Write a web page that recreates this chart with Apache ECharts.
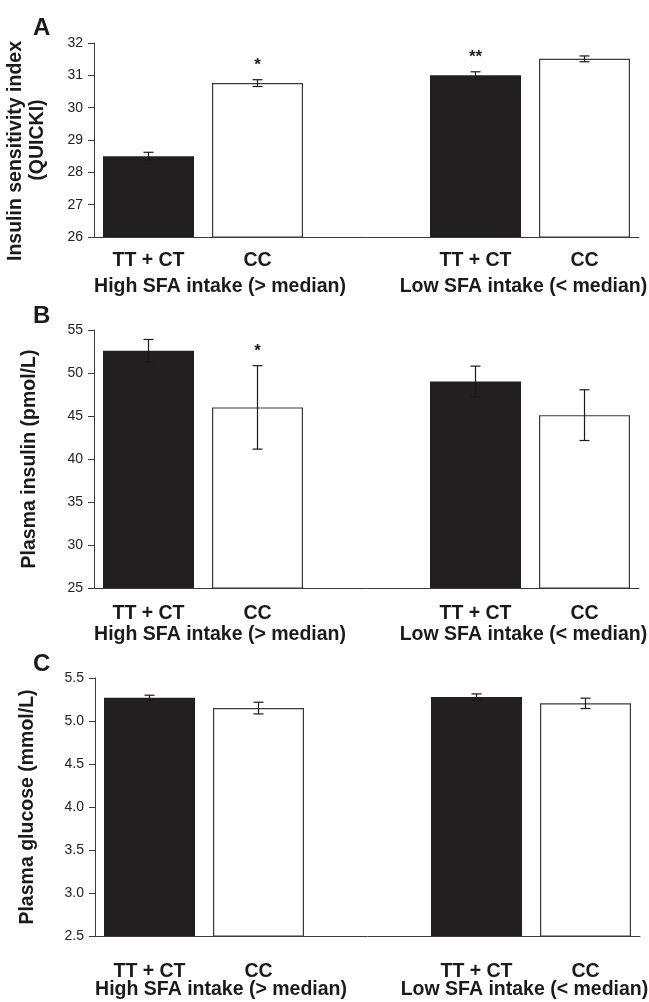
<!DOCTYPE html>
<html>
<head>
<meta charset="utf-8">
<script src="https://cdn.jsdelivr.net/npm/echarts@6/dist/echarts.min.js"></script>
<style>
html,body{margin:0;padding:0;background:#fff;}
#chart{width:649px;height:1002px;}
</style>
</head>
<body>
<div id="chart"></div>
<script>
// ---- data ----
const categories = ['TT + CT', 'CC', '', 'TT + CT', 'CC'];
const groupLabels = ['High SFA intake (> median)', 'Low SFA intake (< median)'];
const panelLetters = ['A', 'B', 'C'];
const yTitles = ['{a|Insulin sensitivity index}\n{b|(QUICKI)}', 'Plasma insulin (pmol/L)', 'Plasma glucose (mmol/L)'];

const quickiMean = [28.5, 30.76, null, 31.0, 31.51];
const quickiSE = [0.12, 0.105, null, 0.11, 0.09];
const quickiStars = ['', '*', '', '**', ''];
const quickiAxis = [26, 32, 1];

const insulinMean = [52.6, 46.0, null, 49.0, 45.1];
const insulinSE = [1.3, 4.85, null, 1.8, 2.95];
const insulinStars = ['', '*', '', '', ''];
const insulinAxis = [25, 55, 5];

const glucoseMean = [5.27, 5.15, null, 5.28, 5.205];
const glucoseSE = [0.03, 0.068, null, 0.035, 0.06];
const glucoseStars = ['', '', '', '', ''];
const glucoseAxis = [2.5, 5.5, 0.5];

// ---- layout / style ----
const FONT = '"Liberation Sans", Arial, Helvetica, sans-serif';
const grids = [
  {left: 94, top: 43, width: 545, height: 194},
  {left: 94, top: 330, width: 545, height: 258},
  {left: 95, top: 678, width: 545, height: 258}
];
const catMargins = [14, 16, 26];
const groupMargins = [40, 37, 44];
const nameGaps = [45, 53, 56];
const letterTops = [16, 304, 652];
// group label centres in category-slot units (slot i centre = i)
const groupPos = [0.656, 3.44];

const panels = [
  {mean: quickiMean, se: quickiSE, stars: quickiStars, axis: quickiAxis, fmt: v => String(v)},
  {mean: insulinMean, se: insulinSE, stars: insulinStars, axis: insulinAxis, fmt: v => String(v)},
  {mean: glucoseMean, se: glucoseSE, stars: glucoseStars, axis: glucoseAxis, fmt: v => v.toFixed(1)}
];

const BLACK = '#231f20';
const AXIS = '#3a3a3a';
const nameFont = {fontFamily: FONT, fontSize: 19.5, fontWeight: 'bold', color: '#1a1a1a', lineHeight: 22};

const option = {
  animation: false,
  backgroundColor: '#fff',
  title: panelLetters.map((t, i) => ({
    text: t, left: 33, top: letterTops[i], padding: 0,
    textStyle: {fontFamily: FONT, fontSize: 24, fontWeight: 'bold', color: '#1a1a1a'}
  })),
  grid: grids.map(g => Object.assign({outerBoundsMode: 'none', containLabel: false}, g)),
  xAxis: [],
  yAxis: [],
  series: []
};

panels.forEach((p, i) => {
  option.xAxis.push({
    type: 'category', gridIndex: i, data: categories,
    axisLine: {onZero: false, lineStyle: {color: AXIS, width: 1}},
    axisTick: {show: false},
    axisLabel: {interval: 0, margin: catMargins[i], color: '#1a1a1a',
      fontFamily: FONT, fontSize: 19.5, fontWeight: 'bold'},
    splitLine: {show: false}
  });
  option.xAxis.push({
    type: 'value', gridIndex: i, min: -0.5, max: 4.5, position: 'bottom',
    axisLine: {show: false, onZero: false}, axisTick: {show: false}, splitLine: {show: false},
    axisLabel: {
      customValues: groupPos, margin: groupMargins[i], color: '#1a1a1a',
      fontFamily: FONT, fontSize: 19.5, fontWeight: 'bold',
      formatter: v => (v < 2 ? groupLabels[0] : groupLabels[1])
    }
  });
  option.yAxis.push({
    type: 'value', gridIndex: i, min: p.axis[0], max: p.axis[1], interval: p.axis[2],
    name: yTitles[i], nameLocation: 'middle', nameGap: nameGaps[i], nameRotate: 90,
    nameTextStyle: Object.assign({}, nameFont, {
      rich: {
        a: Object.assign({}, nameFont, {padding: [0, 22, 0, 0]}),
        b: Object.assign({}, nameFont)
      }
    }),
    axisLine: {show: true, onZero: false, lineStyle: {color: AXIS, width: 1}},
    axisTick: {show: true, length: 6, lineStyle: {color: AXIS, width: 1}},
    axisLabel: {margin: 11, color: '#222', fontFamily: FONT, fontSize: 14, formatter: p.fmt},
    splitLine: {show: false}
  });
  option.series.push({
    type: 'bar', xAxisIndex: i * 2, yAxisIndex: i, barWidth: 91,
    data: p.mean.map((v, k) => v == null ? '-' : {
      value: v,
      itemStyle: k % 3 === 0
        ? {color: BLACK, borderWidth: 0}
        : {color: '#ffffff', borderColor: '#3a3a3a', borderWidth: 1.2}
    }),
    z: 2
  });
  const errData = [];
  p.mean.forEach((v, k) => { if (v != null) errData.push([k, v, p.se[k]]); });
  option.series.push({
    type: 'custom', xAxisIndex: i * 2, yAxisIndex: i, z: 5,
    encode: {x: 0, y: 1},
    data: errData,
    renderItem: function (params, api) {
      const x = api.value(0), v = api.value(1), e = api.value(2);
      const hi = api.coord([x, v + e]);
      const lo = api.coord([x, v - e]);
      const hw = 5;
      const st = {stroke: '#1a1a1a', lineWidth: 1.2};
      const children = [
        {type: 'line', shape: {x1: hi[0], y1: hi[1], x2: lo[0], y2: lo[1]}, style: st},
        {type: 'line', shape: {x1: hi[0] - hw, y1: hi[1], x2: hi[0] + hw, y2: hi[1]}, style: st},
        {type: 'line', shape: {x1: lo[0] - hw, y1: lo[1], x2: lo[0] + hw, y2: lo[1]}, style: st}
      ];
      const star = p.stars[x];
      if (star) {
        children.push({type: 'text', style: {
          text: star, x: hi[0], y: hi[1] - 14, align: 'center', verticalAlign: 'middle',
          fontFamily: FONT, fontSize: 17, fontWeight: 'bold', fill: '#1a1a1a'
        }});
      }
      return {type: 'group', children: children};
    }
  });
});

const chart = echarts.init(document.getElementById('chart'), null, {renderer: 'canvas'});
chart.setOption(option);
</script>
</body>
</html>
